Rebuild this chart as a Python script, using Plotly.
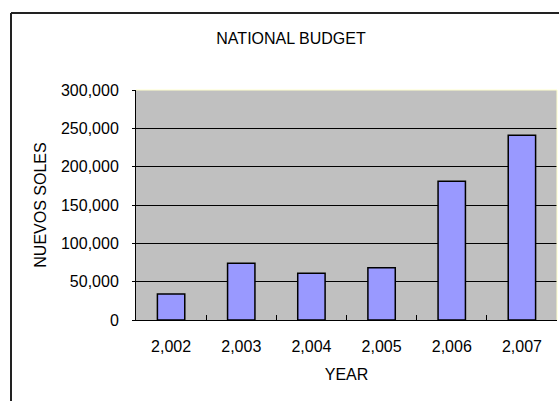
import plotly.graph_objects as go

years = ["2,002", "2,003", "2,004", "2,005", "2,006", "2,007"]
budget = [34000, 74000, 61000, 68000, 181000, 241000]
y_ticks = [0, 50000, 100000, 150000, 200000, 250000, 300000]
y_ticklabels = ["0", "50,000", "100,000", "150,000", "200,000", "250,000", "300,000"]

W, H = 559, 401
L, R, T, B = 136, 2, 90, 81
FONT = "Liberation Sans"
FS = 16

fig = go.Figure(go.Bar(
    x=years, y=budget,
    marker=dict(color="#9999FF", line=dict(color="black", width=1.5)),
    width=0.39,
))

pw = W - L - R
ph = H - T - B

fig.update_layout(
    width=W, height=H,
    margin=dict(l=L, r=R, t=T, b=B),
    paper_bgcolor="white",
    plot_bgcolor="#C0C0C0",
    showlegend=False,
    font=dict(family=FONT, size=FS, color="black"),
    title=dict(text="NATIONAL BUDGET", x=291 / W, xanchor="center",
               y=1 - 38 / H, yanchor="middle", yref="container",
               font=dict(family=FONT, size=FS, color="black")),
    xaxis=dict(
        type="category", tickson="boundaries", ticks="inside", ticklen=5,
        tickcolor="black", showline=True, linecolor="black", linewidth=1,
        showgrid=False, range=[-0.5, 5.5], ticklabelstandoff=12,
        title=dict(text="YEAR", standoff=14, font=dict(family=FONT, size=FS)),
        tickfont=dict(family=FONT, size=FS),
    ),
    yaxis=dict(
        range=[0, 300000], tickvals=y_ticks, ticktext=y_ticklabels,
        ticks="outside", ticklen=3, tickcolor="black",
        showline=True, linecolor="black", linewidth=1,
        showgrid=True, gridcolor="black", gridwidth=1,
        zeroline=False, ticklabelstandoff=10,
        title=dict(text="NUEVOS SOLES", standoff=10, font=dict(family=FONT, size=FS)),
        tickfont=dict(family=FONT, size=FS),
    ),
    shapes=[
        dict(type="line", xref="paper", yref="paper",
             x0=(11 - L) / pw, x1=(W + 5 - L) / pw,
             y0=(H - B - 13) / ph, y1=(H - B - 13) / ph,
             line=dict(color="#222222", width=2)),
        dict(type="line", xref="paper", yref="paper",
             x0=(11 - L) / pw, x1=(11 - L) / pw,
             y0=(H - B - 13) / ph, y1=-(B + 5) / ph,
             line=dict(color="#222222", width=2)),
        dict(type="line", xref="paper", yref="paper",
             x0=0, x1=1, y0=1, y1=1,
             line=dict(color="#FFFFCC", width=1)),
        dict(type="line", xref="paper", yref="paper",
             x0=1, x1=1, y0=0, y1=1,
             line=dict(color="#FFFFCC", width=1)),
    ],
)

fig.write_html("out.html", config={"displayModeBar": False},
               post_script="document.body.style.margin='0';document.body.style.overflow='hidden';")
